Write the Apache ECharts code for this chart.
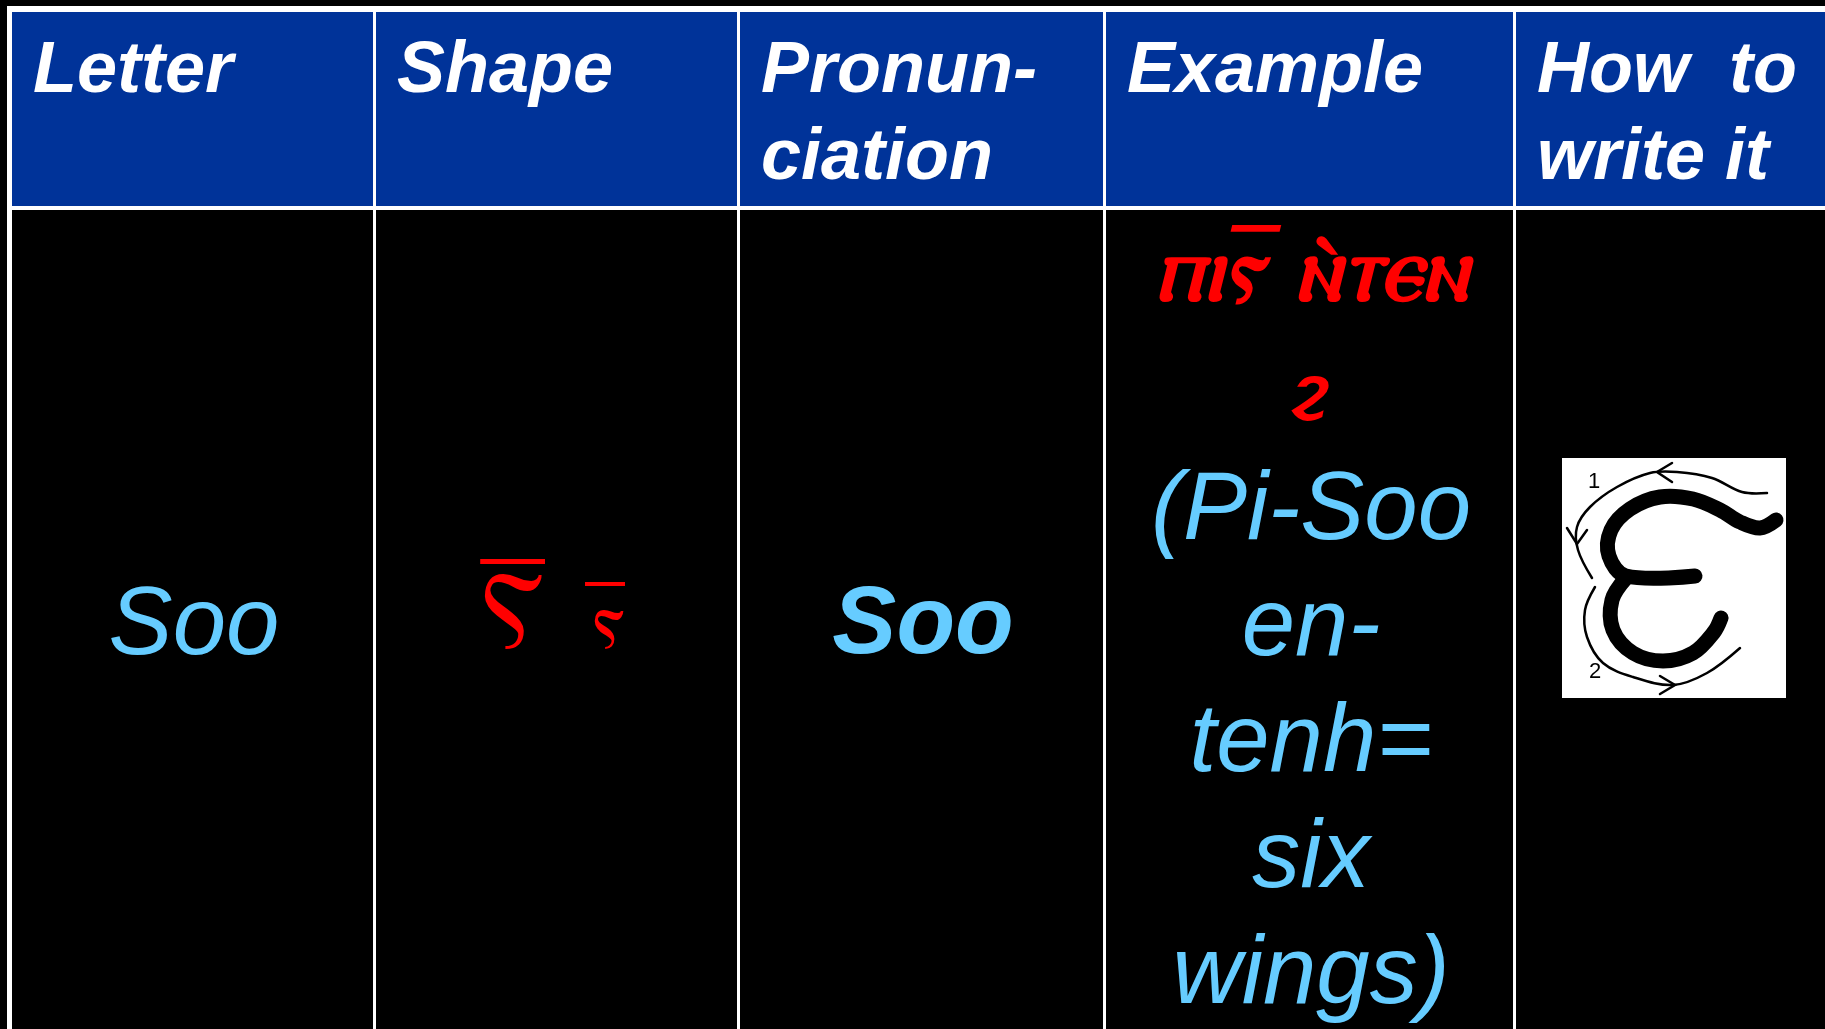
<!DOCTYPE html>
<html>
<head>
<meta charset="utf-8">
<title>Coptic letter Soo</title>
<script src="https://cdn.jsdelivr.net/npm/echarts@6/dist/echarts.min.js"></script>
<style>
  html, body { margin: 0; padding: 0; background: #000; }
  #chart { width: 1825px; height: 1029px; }
</style>
</head>
<body>
<div id="chart"></div>
<script>
// table content
const headers = ['Letter', 'Shape', 'Pronun-\nciation', 'Example', 'How  to\nwrite it']
const letterName = 'Soo'
const shapeGlyphs = ['Ⲋ̅', 'ⲋ̅']
const pronunciation = 'Soo'
const exampleCoptic = ['ⲡⲓⲋ̅ ⲛ̀ⲧⲉⲛ', 'ϩ']
const exampleGloss = ['(Pi-Soo', 'en-', 'tenh=', 'six', 'wings)']
const strokeLabels = ['1', '2']

// layout
const W = 1825
const H = 1029
const colX = [12, 376, 740, 1106, 1516, W]
const headTop = 12
const headBottom = 206
const lineW = 4
const blue = '#003399'
const sky = '#66ccff'
const red = '#ff0000'
const latin = '"Liberation Sans", Arial, sans-serif'
const coptic = '"DejaVu Sans", sans-serif'

const chart = echarts.init(document.getElementById('chart'))

const elements = []

// white frame + blue header
elements.push({ type: 'rect', shape: { x: colX[0] - 5, y: headTop - 6, width: W, height: H }, style: { fill: '#fff' } })
elements.push({ type: 'rect', shape: { x: colX[0], y: headTop, width: W, height: headBottom - headTop }, style: { fill: blue } })
elements.push({ type: 'rect', shape: { x: colX[0], y: headBottom + lineW, width: W, height: H }, style: { fill: '#000' } })
for (let i = 1; i < colX.length - 1; i++) {
  elements.push({ type: 'rect', shape: { x: colX[i] - lineW + 1, y: headTop, width: lineW - 1, height: H }, style: { fill: '#fff' } })
}

// header labels
headers.forEach((h, i) => {
  elements.push({
    type: 'text', x: colX[i] + 21, y: 29,
    style: {
      text: h, fill: '#fff', fontFamily: latin, fontSize: 72, fontWeight: 'bold', fontStyle: 'italic',
      lineHeight: 87, align: 'left', verticalAlign: 'top', textAlign: 'left', textVerticalAlign: 'top'
    }
  })
})

const mid = i => (colX[i] + colX[i + 1]) / 2

function bodyText (text, x, y, opts) {
  return {
    type: 'text', x, y,
    style: Object.assign({
      text, fill: sky, fontFamily: latin, fontSize: 96, fontStyle: 'italic',
      align: 'center', verticalAlign: 'middle', textAlign: 'center', textVerticalAlign: 'middle'
    }, opts || {})
  }
}

elements.push(bodyText(letterName, mid(0), 627))
elements.push(bodyText(pronunciation, mid(2), 627, { fontWeight: 'bold' }))

// shape glyphs
elements.push(bodyText(shapeGlyphs[0], 513, 618, { fill: red, fontFamily: coptic, fontStyle: 'normal', fontSize: 108 }))
elements.push(bodyText(shapeGlyphs[1], 609, 626, { fill: red, fontFamily: coptic, fontStyle: 'normal', fontSize: 80 }))

// example column
const copticStyle = { fill: red, fontFamily: coptic, fontSize: 92, fontWeight: 'bold' }
elements.push(bodyText(exampleCoptic[0], mid(3), 276, copticStyle))
elements.push(bodyText(exampleCoptic[1], mid(3), 394, Object.assign({}, copticStyle, { fontSize: 58 })))
elements.push(bodyText(exampleGloss.join('\n'), mid(3), 454, { lineHeight: 116, verticalAlign: 'top', textVerticalAlign: 'top' }))

// how to write it: stroke diagram
const thick = { stroke: '#000', lineWidth: 15, fill: null, lineCap: 'round', lineJoin: 'round' }
const thin = { stroke: '#000', lineWidth: 2.5, fill: null, lineCap: 'round' }
elements.push({
  type: 'group', x: 1562, y: 458,
  children: [
    { type: 'rect', shape: { x: 0, y: 0, width: 224, height: 240 }, style: { fill: '#fff' } },
    { type: 'polyline', shape: { smooth: 0.35, points: [[214, 62], [198, 70], [178, 64], [158, 52], [131, 41], [98, 39], [68, 51], [49, 72], [47, 98], [64, 118], [133, 118]] }, style: thick },
    { type: 'polyline', shape: { smooth: 0.35, points: [[64, 120], [50, 142], [51, 172], [71, 195], [101, 203], [131, 195], [152, 174], [159, 160]] }, style: thick },
    { type: 'polyline', shape: { smooth: 0.35, points: [[205, 35], [180, 34], [150, 20], [115, 14], [88, 15], [55, 29], [28, 49], [15, 69], [16, 92], [30, 120]] }, style: thin },
    { type: 'polyline', shape: { points: [[110, 5], [95, 14], [110, 24]] }, style: thin },
    { type: 'polyline', shape: { points: [[5, 70], [15, 86], [25, 72]] }, style: thin },
    { type: 'polyline', shape: { smooth: 0.35, points: [[33, 129], [23, 152], [25, 179], [41, 205], [71, 219], [111, 227], [145, 215], [178, 190]] }, style: thin },
    { type: 'polyline', shape: { points: [[98, 218], [113, 227], [98, 236]] }, style: thin },
    bodyText(strokeLabels[0], 32, 24, { fill: '#000', fontSize: 22, fontStyle: 'normal' }),
    bodyText(strokeLabels[1], 33, 214, { fill: '#000', fontSize: 22, fontStyle: 'normal' })
  ]
})

chart.setOption({
  backgroundColor: '#000',
  animation: false,
  graphic: { elements }
})
</script>
</body>
</html>
